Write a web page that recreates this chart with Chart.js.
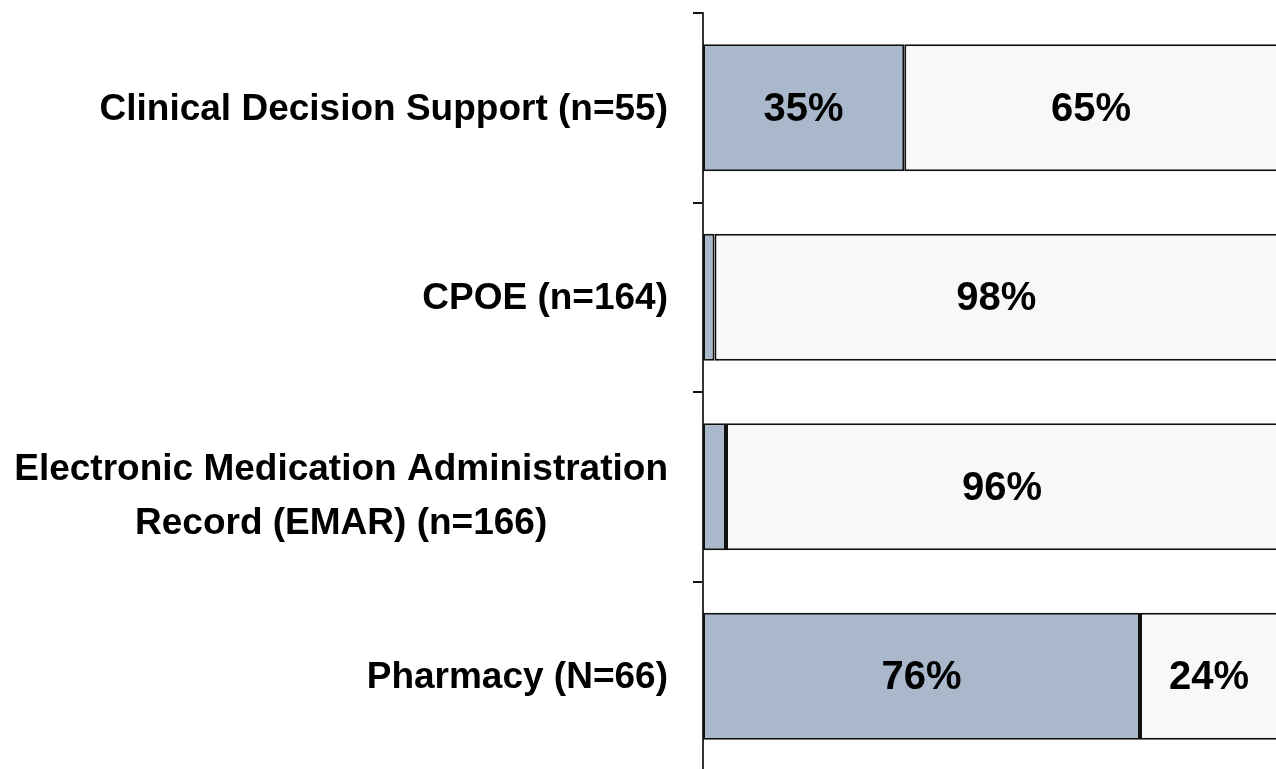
<!DOCTYPE html>
<html>
<head>
<meta charset="utf-8">
<script src="https://cdn.jsdelivr.net/npm/chart.js@4.4.0/dist/chart.umd.min.js"></script>
<style>
  html, body { margin: 0; padding: 0; background: #ffffff; overflow: hidden; }
  #wrap { position: relative; width: 1280px; height: 771px; }
</style>
</head>
<body>
<div id="wrap"><canvas id="c"></canvas></div>
<script>
const categories = [
  ["Clinical Decision Support (n=55)"],
  ["CPOE (n=164)"],
  ["Electronic Medication Administration", "Record (EMAR) (n=166)"],
  ["Pharmacy (N=66)"]
];
const seriesA = [35, 2, 4, 76];
const seriesB = [65, 98, 96, 24];

const FONT = "'Liberation Sans', Arial, sans-serif";

const labelPlugin = {
  id: 'labels',
  afterDatasetsDraw(chart) {
    const ctx = chart.ctx;
    ctx.save();
    ctx.fillStyle = '#000';
    ctx.textBaseline = 'middle';
    ctx.textAlign = 'center';
    ctx.font = 'bold 40px ' + FONT;
    chart.data.datasets.forEach((ds, di) => {
      const meta = chart.getDatasetMeta(di);
      meta.data.forEach((bar, i) => {
        const v = ds.data[i];
        if (v < 10) return;
        const x = (bar.base + bar.x) / 2;
        ctx.fillText(v + '%', x, bar.y + 2);
      });
    });
    // category labels
    const ys = chart.scales.y;
    ctx.font = 'bold 37px ' + FONT;
    const right = chart.chartArea.left - 35;
    categories.forEach((lines, i) => {
      const cy = ys.getPixelForValue(i);
      const widths = lines.map(l => ctx.measureText(l).width);
      const wmax = Math.max(...widths);
      const lh = 54;
      lines.forEach((l, k) => {
        const y = cy + (k - (lines.length - 1) / 2) * lh + (lines.length > 1 ? 10 : 2);
        ctx.textAlign = 'center';
        ctx.fillText(l, right - wmax / 2, y);
      });
    });
    ctx.restore();
  }
};

new Chart(document.getElementById('c'), {
  type: 'bar',
  data: {
    labels: categories,
    datasets: [
      { data: seriesA, backgroundColor: '#a9b9cb', borderColor: '#111', borderWidth: 2, borderSkipped: false },
      { data: seriesB, backgroundColor: '#f8f8f8', borderColor: '#111', borderWidth: 2, borderSkipped: false }
    ]
  },
  options: {
    indexAxis: 'y',
    responsive: true,
    maintainAspectRatio: false,
    animation: false,
    layout: { padding: { top: 13, right: 2, bottom: 0, left: 0 } },
    plugins: { legend: { display: false }, tooltip: { enabled: false } },
    datasets: { bar: { barPercentage: 0.67, categoryPercentage: 1 } },
    scales: {
      x: { display: false, stacked: true, min: 0, max: 100 },
      y: {
        stacked: true,
        offset: true,
        ticks: { display: false },
        grid: { display: true, drawOnChartArea: false, drawTicks: true, tickLength: 10, offset: true, color: '#111', lineWidth: 2 },
        border: { display: true, color: '#333', width: 2 },
        afterFit(scale) { scale.width = 703; }
      }
    }
  },
  plugins: [labelPlugin]
});
</script>
</body>
</html>
